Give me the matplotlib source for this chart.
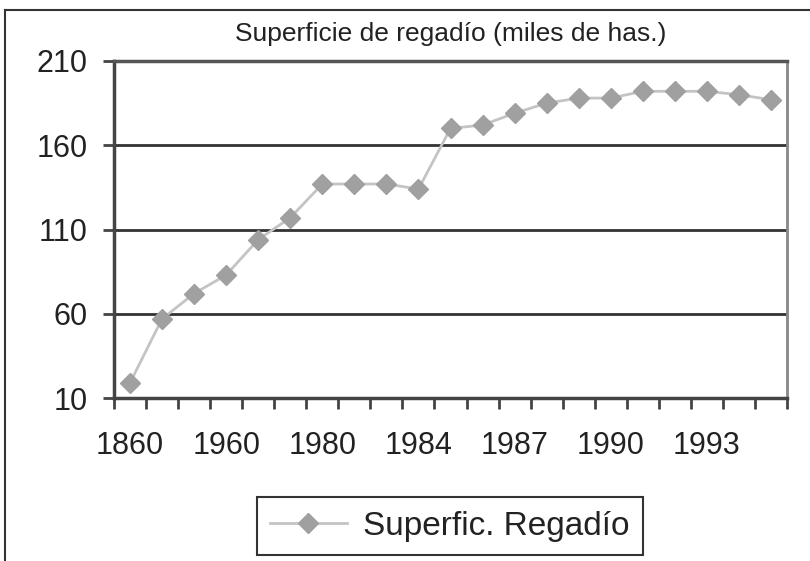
import matplotlib.pyplot as plt
from matplotlib.lines import Line2D

# superficie de regadio, miles de has.
values = [19, 57, 72, 83, 104, 117, 137, 137, 137, 134, 170,
          172, 179, 185, 188, 188, 192, 192, 192, 190, 187]
x_labels = ["1860", "", "", "1960", "", "", "1980", "", "", "1984", "",
            "", "1987", "", "", "1990", "", "", "1993", "", ""]
y_ticks = [10, 60, 110, 160, 210]

plt.rcParams['font.family'] = ['Liberation Sans', 'DejaVu Sans']
plt.rcParams['text.color'] = '#222222'

fig = plt.figure(figsize=(8.1, 5.61), dpi=100)
ax = fig.add_axes([114/810, 1-398/561, (787-114)/810, (398-61)/561])

x = list(range(len(values)))
ax.plot(x, values, color='#c4c4c4', lw=2, marker='D', ms=10,
        mfc='#a0a0a0', mec='#a0a0a0', label='Superfic. Regadío', zorder=3)

ax.set_xlim(-0.5, len(values) - 0.5)
ax.set_ylim(10, 210)
ax.set_yticks(y_ticks)
ax.set_yticklabels([str(v) for v in y_ticks], fontsize=22, color='#222222')
for v in y_ticks[1:]:
    ax.axhline(v, color='#333333', lw=2, zorder=1)

# labels on the categories, tick marks between them
ax.set_xticks(x)
ax.set_xticklabels(x_labels, fontsize=22, color='#222222')
ax.tick_params(axis='x', which='major', length=0, pad=24)
ax.set_xticks([i - 0.5 for i in range(len(values) + 1)], minor=True)
ax.tick_params(axis='x', which='minor', length=8, width=2, color='#444444', direction='out')
ax.tick_params(axis='y', length=8, width=2, color='#444444', pad=11)

for s in ['left', 'bottom']:
    ax.spines[s].set_color('#444444')
    ax.spines[s].set_linewidth(2.5)
ax.spines['right'].set_color('#888888')
ax.spines['right'].set_linewidth(2)
ax.spines['top'].set_color('#555555')
ax.spines['top'].set_linewidth(2.5)

fig.text(0.556, 1-34/561, 'Superficie de regadío (miles de has.)',
         ha='center', va='center', fontsize=19)

leg = fig.legend(loc='center', bbox_to_anchor=(450/810, 1-526/561), fontsize=24,
                 frameon=True, fancybox=False, edgecolor='#333333', framealpha=1,
                 handlelength=2.3, borderpad=0.4, handletextpad=0.5)
leg.get_frame().set_linewidth(1.5)

# outer frame of the picture (only top and left visible)
fig.add_artist(Line2D([5/810, 1], [1-10/561, 1-10/561], color='#333333', lw=1.5))
fig.add_artist(Line2D([5/810, 5/810], [0, 1-10/561], color='#333333', lw=1.5))

fig.savefig('out.png', dpi=100)
